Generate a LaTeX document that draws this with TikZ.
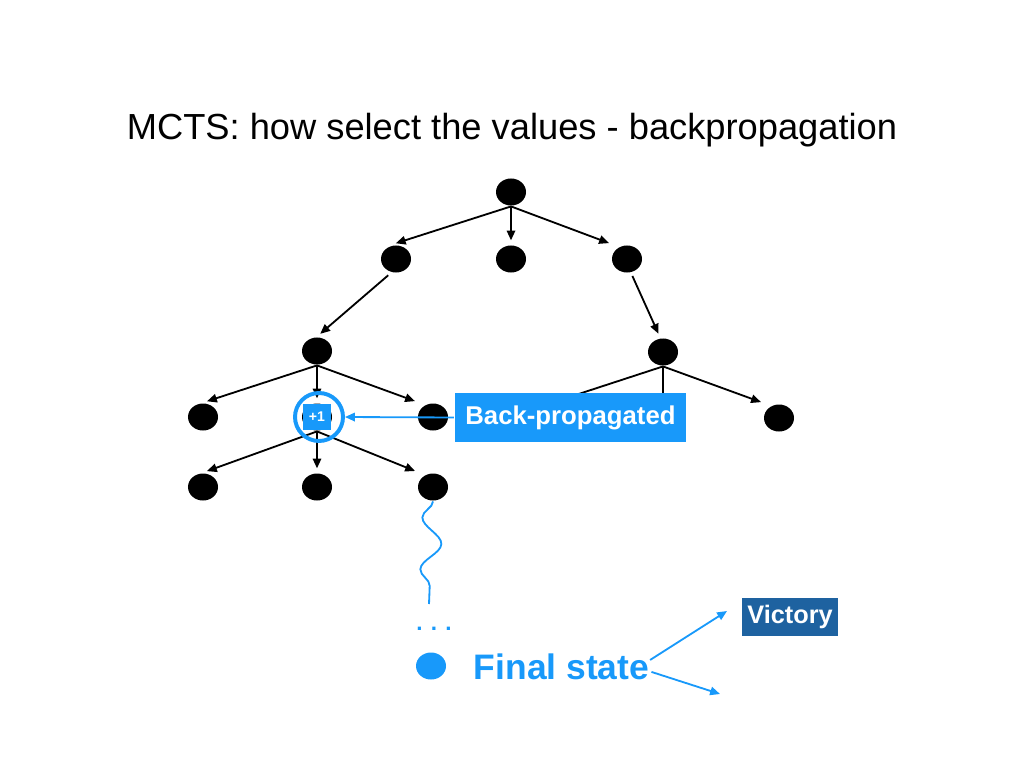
\documentclass[tikz,border=0pt]{standalone}
\usepackage{fontspec}
\setmainfont{Liberation Sans}
\usetikzlibrary{shapes.geometric, arrows.meta, decorations.pathmorphing}
\definecolor{azzurro}{RGB}{24,153,250}
\definecolor{blu}{RGB}{30,98,160}

\begin{document}
\begin{tikzpicture}[x=0.025cm, y=-0.025cm, line width=1.3pt, >={Triangle[length=7pt,width=6pt]},
    main/.style = {fill=black, ellipse, minimum width=0.75cm, minimum height=0.675cm, inner sep=0pt},
    box/.style = {fill=azzurro, text=white, font=\bfseries, inner sep=0pt}]
    \useasboundingbox (0,0) rectangle (1024,768);

    \node (title) at (512,130) {\fontsize{25.8}{30}\selectfont MCTS: how select the values - backpropagation};

    % Disegna i nodi dell'albero
    \node[main] (0) at (511,192) {};
    \node[main] (1) at (396,259) {};
    \node[main] (2) at (511,259) {};
    \node[main] (3) at (627,259) {};
    \node[main] (4) at (317,351) {};
    \node[main] (5) at (663,352) {};
    \node[main] (6) at (203,417) {};
    \node[main] (7) at (317,417) {};
    \node[main] (8) at (433,417) {};
    \node[main] (9) at (779,418) {};
    \node[main] (10) at (203,487) {};
    \node[main] (11) at (317,487) {};
    \node[main] (12) at (433,487) {};
    \coordinate (5a) at (548,404);
    \coordinate (5b) at (663,404);

    \draw[->, shorten >=3pt] (0.south) to ([xshift=-3pt]1.north);
    \draw[->, shorten >=3pt] (0.south) to (2.north);
    \draw[->, shorten >=3pt] (0.south) to ([xshift=-10pt]3.north);
    \draw[->, shorten <=2pt, shorten >=3pt] ([xshift=-4pt]1.south) to (4.north);
    \draw[->, shorten <=2pt, shorten >=3pt] ([xshift=3pt]3.south) to ([xshift=-2pt]5.north);
    \draw[->, shorten >=3pt] (4.south) to (6.north);
    \draw[->, shorten >=3pt] (4.south) to (7.north);
    \draw[->, shorten >=3pt] (4.south) to ([xshift=-10pt]8.north);
    \draw (5.south) to (5a);
    \draw (5.south) to (5b);
    \draw[->, shorten >=3pt] (5.south) to ([xshift=-10pt]9.north);
    \draw[->, shorten >=3pt] (7.south) to (10.north);
    \draw[->, shorten >=3pt] (7.south) to (11.north);
    \draw[->, shorten >=3pt] (7.south) to ([xshift=-10pt]12.north);

    \node[circle, draw=azzurro, line width=2.8pt, minimum size=1.2cm] (ring) at (319,417) {};
    \node[box, minimum width=0.72cm, minimum height=0.65cm, font=\bfseries\fontsize{10}{12}\selectfont] (plus) at (317,417) {+1};

    \node[box, minimum height=1.225cm, inner xsep=7.5pt, font=\bfseries\fontsize{18.3}{22}\selectfont] (bp) at (570.5,417.5) {Back-propagated};
    \draw[->, azzurro] (bp.west) to (ring.east);

    \coordinate (wend) at (429,604);
    \draw[azzurro, decorate, decoration={snake, segment length=1.3cm, amplitude=0.25cm, mirror}] (12.south) to (wend);

    \node[text=azzurro, anchor=base, font=\bfseries\fontsize{16}{18}\selectfont] (dots) at (434,630) {. . .};
    \node[main, fill=azzurro] (final) at (431,666) {};
    \node[text=azzurro, anchor=west, inner sep=0pt, font=\bfseries\fontsize{25.2}{30}\selectfont] (fs) at (473,667) {Final state};

    \node[box, fill=blu, minimum height=0.95cm, inner xsep=4pt, font=\bfseries\fontsize{18}{22}\selectfont] (vic) at (790,617) {Victory};
    \coordinate (v) at (727,611);
    \coordinate (w) at (720,694);
    \draw[->, azzurro] ([yshift=5pt]fs.east) to (v);
    \draw[->, azzurro] ([yshift=-3.5pt, xshift=1pt]fs.east) to (w);

\end{tikzpicture}
\end{document}
